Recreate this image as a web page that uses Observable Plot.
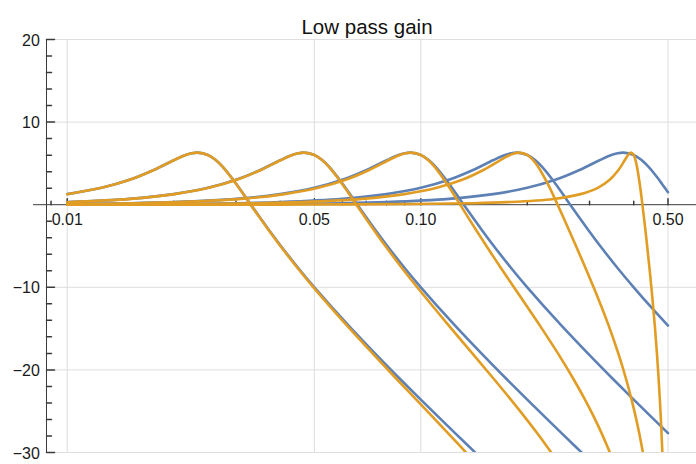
<!DOCTYPE html>
<html><head><meta charset="utf-8">
<script src="https://cdn.jsdelivr.net/npm/d3@7"></script>
<script src="https://cdn.jsdelivr.net/npm/@observablehq/plot@0.6"></script>
<style>body{margin:0;background:#fff;}</style>
</head><body><div id="chart"></div>
<script>
// Analog responses (blue)
const freqBlue025 = [0.01,0.0125,0.015,0.0175,0.02,0.02125,0.0225,0.023375,0.025,0.02625,0.0275,0.03,0.0325,0.035,0.0375,0.04,0.045,0.05,0.0625,0.075,0.0875,0.1,0.1125,0.125,0.1375,0.15];
const gainBlue025 = [1.28,2.04,3.01,4.17,5.38,5.89,6.22,6.30,6.02,5.44,4.60,2.57,0.46,-1.50,-3.27,-4.88,-7.66,-10.00,-14.64,-18.21,-21.13,-23.60,-25.75,-27.65,-29.36,-30.91];
const freqBlue05 = [0.01,0.015,0.02,0.025,0.03,0.035,0.04,0.0425,0.045,0.04675,0.05,0.0525,0.055,0.06,0.065,0.07,0.075,0.08,0.09,0.1,0.125,0.15,0.175,0.2,0.225,0.25,0.275,0.3];
const gainBlue05 = [0.31,0.70,1.28,2.04,3.01,4.17,5.38,5.89,6.22,6.30,6.02,5.44,4.60,2.57,0.46,-1.50,-3.27,-4.88,-7.66,-10.00,-14.64,-18.21,-21.13,-23.60,-25.75,-27.65,-29.36,-30.91];
const freqBlue1 = [0.01,0.015,0.02,0.03,0.04,0.05,0.06,0.07,0.08,0.085,0.09,0.0935,0.1,0.105,0.11,0.12,0.13,0.14,0.15,0.16,0.18,0.2,0.25,0.3,0.35,0.4,0.45,0.5];
const gainBlue1 = [0.08,0.17,0.31,0.70,1.28,2.04,3.01,4.17,5.38,5.89,6.22,6.30,6.02,5.44,4.60,2.57,0.46,-1.50,-3.27,-4.88,-7.66,-10.00,-14.64,-18.21,-21.13,-23.60,-25.75,-27.65];
const freqBlue2 = [0.01,0.02,0.03,0.04,0.06,0.08,0.1,0.12,0.14,0.16,0.17,0.18,0.187,0.2,0.21,0.22,0.24,0.26,0.28,0.3,0.32,0.36,0.4,0.45,0.5];
const gainBlue2 = [0.02,0.08,0.17,0.31,0.70,1.28,2.04,3.01,4.17,5.38,5.89,6.22,6.30,6.02,5.44,4.60,2.57,0.46,-1.50,-3.27,-4.88,-7.66,-10.00,-12.50,-14.64];
const freqBlue4 = [0.01,0.02,0.04,0.06,0.08,0.12,0.16,0.2,0.24,0.28,0.32,0.34,0.36,0.374,0.4,0.42,0.44,0.46,0.48,0.5];
const gainBlue4 = [0.00,0.02,0.08,0.17,0.31,0.70,1.28,2.04,3.01,4.17,5.38,5.89,6.22,6.30,6.02,5.44,4.60,3.62,2.57,1.51];

// Digital responses (orange)
const freqOrange025 = [0.01,0.01252,0.01502,0.01752,0.02002,0.02126,0.02251,0.02338,0.025,0.02625,0.02749,0.02997,0.03245,0.03493,0.0374,0.03987,0.0448,0.0497,0.06184,0.0738,0.08556,0.09711,0.10835,0.11933,0.13003,0.14043];
const gainOrange025 = [1.27,2.04,3.01,4.17,5.38,5.89,6.22,6.30,6.02,5.44,4.60,2.57,0.46,-1.50,-3.27,-4.88,-7.66,-10.00,-14.64,-18.21,-21.13,-23.60,-25.75,-27.65,-29.36,-30.91];
const freqOrange05 = [0.01,0.015113,0.020139,0.025155,0.030159,0.035147,0.040118,0.042597,0.04507,0.046798,0.05,0.052456,0.054906,0.059785,0.064636,0.069457,0.074246,0.079001,0.088415,0.097666,0.120009,0.141193,0.16112,0.179754,0.197105,0.213202,0.228111,0.241891];
const gainOrange05 = [0.30,0.70,1.28,2.04,3.01,4.17,5.38,5.89,6.22,6.30,6.02,5.44,4.60,2.57,0.46,-1.50,-3.27,-4.88,-7.66,-10.00,-14.64,-18.21,-21.13,-23.60,-25.75,-27.65,-29.36,-30.91];
const freqOrange1 = [0.01,0.015502,0.020656,0.03093,0.041139,0.051265,0.061286,0.071187,0.080949,0.085774,0.090559,0.093883,0.1,0.104655,0.109263,0.11834,0.127217,0.13589,0.144353,0.152604,0.168453,0.18343,0.217149,0.245932,0.270409,0.291249,0.30906,0.324369,0.337611,0.349138];
const gainOrange1 = [0.07,0.17,0.31,0.70,1.28,2.04,3.01,4.17,5.38,5.89,6.22,6.30,6.02,5.44,4.60,2.57,0.46,-1.50,-3.27,-4.88,-7.66,-10.00,-14.64,-18.21,-21.13,-23.60,-25.75,-27.65,-29.36,-30.91];
const freqOrange2 = [0.01,0.023086,0.034553,0.045932,0.068311,0.090027,0.110916,0.130853,0.149761,0.167592,0.176099,0.184335,0.189939,0.2,0.207439,0.21462,0.228245,0.240918,0.252707,0.263672,0.27387,0.292202,0.308138,0.339807,0.363084,0.38074,0.394513,0.40552,0.414498,0.421949,0.428226];
const gainOrange2 = [0.01,0.08,0.17,0.31,0.70,1.28,2.04,3.01,4.17,5.38,5.89,6.22,6.30,6.02,5.44,4.60,2.57,0.46,-1.50,-3.27,-4.88,-7.66,-10.00,-14.64,-18.21,-21.13,-23.60,-25.75,-27.65,-29.36,-30.91];
const freqOrange4 = [0.01,0.024443,0.048602,0.095037,0.137671,0.175633,0.237315,0.28285,0.316572,0.342019,0.361672,0.377199,0.383781,0.38972,0.393542,0.4,0.404478,0.40858,0.415834,0.422043,0.427414,0.432103,0.436231,0.443158,0.44874,0.458865,0.465654,0.470535,0.474201,0.477057,0.479344,0.481218,0.48278];
const gainOrange4 = [0.00,0.00,0.02,0.08,0.17,0.31,0.70,1.28,2.04,3.01,4.17,5.38,5.89,6.22,6.30,6.02,5.44,4.60,2.57,0.46,-1.50,-3.27,-4.88,-7.66,-10.00,-14.64,-18.21,-21.13,-23.60,-25.75,-27.65,-29.36,-30.91];

// Axes
const xMajor = [0.01, 0.05, 0.1, 0.5];
const xMajorLabels = ["0.01", "0.05", "0.10", "0.50"];
const xMinor = [0.009, 0.02, 0.03, 0.04, 0.06, 0.07, 0.08, 0.09, 0.2, 0.3, 0.4];
const yMajor = [20, 10, -10, -20, -30];
const yMajorLabels = ["20", "10", "\u221210", "\u221220", "\u221230"];
const yMinor = [18,16,14,12,8,6,4,2,-2,-4,-6,-8,-12,-14,-16,-18,-22,-24,-26,-28];
const title = "Low pass gain";

const toRows = (pairs) => pairs.flatMap(([f, g], k) => f.map((x, i) => ({f: x, g: g[i], k})));
const blueRows = toRows([[freqBlue025, gainBlue025], [freqBlue05, gainBlue05], [freqBlue1, gainBlue1], [freqBlue2, gainBlue2], [freqBlue4, gainBlue4]]);
const orangeRows = toRows([[freqOrange025, gainOrange025], [freqOrange05, gainOrange05], [freqOrange1, gainOrange1], [freqOrange2, gainOrange2], [freqOrange4, gainOrange4]]);

const axisColor = "#3a3a3a";
const gridColor = "#dedede";

const chart = Plot.plot({
  width: 696, height: 464,
  marginLeft: 46, marginRight: 0, marginTop: 39, marginBottom: 12,
  x: {type: "log", domain: [0.008738, 0.602], axis: null},
  y: {domain: [-30, 20], axis: null},
  style: {fontFamily: "'Liberation Sans', Arial, sans-serif", background: "#fff", overflow: "visible"},
  marks: [
    Plot.ruleX(xMajor, {x: d => d, stroke: gridColor, strokeWidth: 1}),
    Plot.ruleY(yMajor, {y: d => d, stroke: gridColor, strokeWidth: 1}),
    Plot.ruleY([0], {y: d => d, stroke: axisColor, strokeWidth: 1, insetLeft: -13}),
    Plot.frame({anchor: "left", stroke: axisColor, strokeWidth: 1}),
    Plot.vector(xMajor, {x: d => d, y: () => 0, length: 6, rotate: 0, anchor: "start", r: 0, stroke: axisColor}),
    Plot.vector(xMinor, {x: d => d, y: () => 0, length: 3.5, rotate: 0, anchor: "start", r: 0, stroke: axisColor}),
    Plot.vector(yMajor, {y: d => d, frameAnchor: "left", length: 8, rotate: 90, anchor: "start", r: 0, stroke: axisColor}),
    Plot.vector(yMinor, {y: d => d, frameAnchor: "left", length: 5, rotate: 90, anchor: "start", r: 0, stroke: axisColor}),
    Plot.text(xMajor, {x: d => d, y: () => 0, text: (d, i) => xMajorLabels[i], dy: 15.5, fontSize: 16, fill: "#1a1a1a"}),
    Plot.text(yMajor, {y: d => d, text: (d, i) => yMajorLabels[i], frameAnchor: "left", textAnchor: "end", dx: -6.7, dy: 1, fontSize: 16, fill: "#1a1a1a"}),
    Plot.line(blueRows, {x: "f", y: "g", z: "k", stroke: "#5E81B5", strokeWidth: 2.6, curve: "catmull-rom", clip: true}),
    Plot.line(orangeRows, {x: "f", y: "g", z: "k", stroke: "#E19C24", strokeWidth: 2.6, curve: "catmull-rom", clip: true}),
    Plot.text([title], {text: d => d, frameAnchor: "top", dx: -4.5, dy: -20, fontSize: 20.5, fill: "#111"})
  ]
});
document.getElementById("chart").append(chart);
</script>
</body></html>
